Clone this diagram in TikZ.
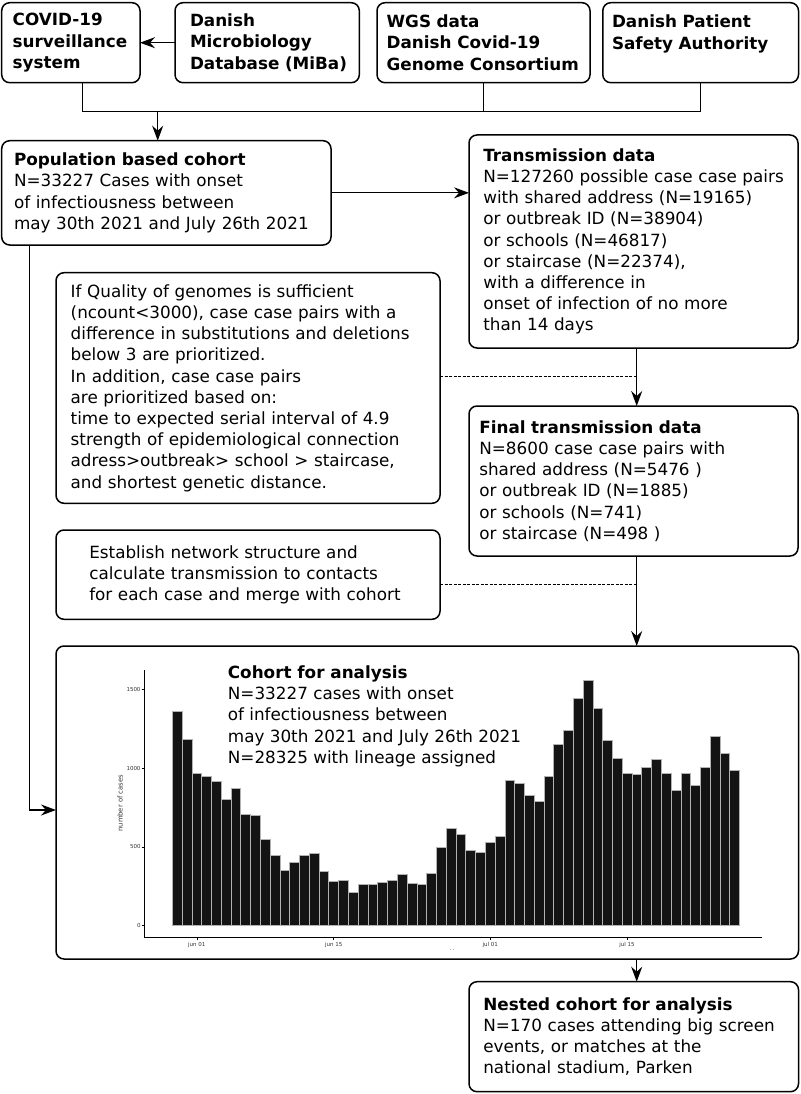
\documentclass[tikz,border=0pt]{standalone}
\usepackage{fontspec}
\setmainfont{DejaVu Sans}
\usetikzlibrary{arrows.meta}

\begin{document}
\begin{tikzpicture}[x=1pt, y=-1pt,
  box/.style={draw, line width=1.5pt, rounded corners=8pt, anchor=north west, outer sep=0pt, align=left, font=\fontsize{16.8}{21.2}\selectfont},
  link/.style={line width=1.3pt},
  arr/.style={line width=1.3pt, -{Stealth[length=15pt, width=11pt, inset=5pt]}},
  dash line/.style={line width=0.9pt, dash pattern=on 3pt off 1.5pt},
  bar/.style={fill=black!92, draw=black!30, line width=0.6pt},
  tick label/.style={font=\fontsize{5.5}{6}\selectfont, inner sep=0.5pt, text=black!80}]

\useasboundingbox (0,0) rectangle (800,1094);

% sources
\node [box, inner xsep=11pt, text width=116.3pt, minimum width=138.3pt, minimum height=80pt] (covid) at (1.7,2.7) {\textbf{COVID-19}\\\textbf{surveillance}\\\textbf{system}};
\node [box, inner xsep=15pt, text width=154.3pt, minimum width=184.3pt, minimum height=80pt] (miba) at (175,2.7) {\textbf{Danish}\\\textbf{Microbiology}\\\textbf{Database~(MiBa)}};
\node [box, inner xsep=9.7pt, text width=193.6pt, minimum width=213pt, minimum height=80pt] (wgs) at (377,2.7) {\textbf{WGS data}\\\textbf{Danish Covid-19}\\\textbf{Genome~Consortium}};
\node [box, inner xsep=9.2pt, text width=177.3pt, minimum width=195.7pt, minimum height=80pt] (dpsa) at (602.8,2.7) {\textbf{Danish Patient}\\\textbf{Safety Authority}\\\mbox{}};

% cohorts and pairs
\node [box, inner xsep=12.3pt, text width=304.7pt, minimum width=329.3pt, minimum height=104.3pt] (pop) at (1.7,140.7) {\textbf{Population based cohort}\\N=33227 Cases with onset\\of infectiousness between\\may 30th 2021 and July 26th 2021};
\node [box, inner xsep=14.3pt, text width=300.4pt, minimum width=329pt, minimum height=213pt] (trans) at (469,135) {\textbf{Transmission data}\\\mbox{N=127260 possible case case pairs}\\with shared address (N=19165)\\or outbreak ID (N=38904)\\or schools (N=46817)\\or staircase (N=22374),\\with a difference in\\onset of infection of no more\\than 14 days};
\node [box, inner xsep=14.7pt, text width=354.6pt, minimum width=384pt, minimum height=230.6pt] (quality) at (56,272.7) {If Quality of genomes is sufficient\\(ncount<3000), case case pairs with a\\difference in substitutions and deletions\\below 3 are prioritized.\\In addition, case case pairs\\are prioritized based on:\\time to expected serial interval of 4.9\\strength of epidemiological connection\\adress>outbreak> school > staircase,\\and shortest genetic distance.};
\node [box, inner xsep=10.3pt, text width=308.4pt, minimum width=329pt, minimum height=150pt] (final) at (469,406) {\textbf{Final transmission data}\\N=8600 case case pairs with\\shared address (N=5476 )\\or outbreak ID (N=1885)\\or schools (N=741)\\or staircase (N=498 )};
\node [box, inner xsep=33.3pt, text width=317.4pt, minimum width=384pt, minimum height=89.3pt] (establish) at (56,530) {Establish network structure and\\calculate transmission to contacts\\for each case and merge with cohort};
\node [box, inner sep=0pt, minimum width=742.5pt, minimum height=313pt] (cohort) at (56,646) {};
\node [box, inner xsep=14.3pt, text width=300.9pt, minimum width=329.5pt, minimum height=110pt] (nested) at (469,981.7) {\textbf{Nested cohort for analysis}\\N=170 cases attending big screen\\events, or matches at the\\national stadium, Parken};

\coordinate (bus) at (82.7,111.7);
\coordinate (drop) at (157.7,111.7);
\coordinate (spine) at (636.7,0);
\coordinate (feed) at (29.3,810);

\draw [arr] (miba.west) -- (covid.east);
\draw [link] (covid.south -| bus) -- (bus) -| (dpsa.south);
\draw [link] (wgs.south) -- (wgs.south |- bus);
\draw [arr] (drop) -- (drop |- pop.north);
\draw [arr] (pop.east) -- (pop.east -| trans.west);
\draw [arr] (trans.south -| spine) -- (final.north -| spine);
\draw [dash line] ([yshift=11.3pt]quality.east) -- ([yshift=11.3pt]quality.east -| spine);
\draw [dash line] ([yshift=-9.3pt]establish.east) -- ([yshift=-9.3pt]establish.east -| spine);
\draw [arr] (final.south -| spine) -- (cohort.north -| spine);
\draw [arr] (cohort.south -| spine) -- (nested.north -| spine);
\draw [arr] (pop.south -| feed) |- (cohort.west |- feed);

% daily cases chart
\foreach \v [count=\i] in {1362,1180,964,945,917,805,869,705,699,551,445,350,403,449,460,343,284,290,214,263,263,275,288,326,269,265,330,498,621,583,481,466,532,568,924,905,828,792,949,1153,1237,1441,1555,1381,1178,1061,968,962,1006,1055,964,862,968,892,1004,1203,1093,983} {\draw [bar] (162.52+9.78*\i,925.7) rectangle ++(9.78,-0.1576*\v);}

\draw [line width=0.8pt] (144.3,670) -- (144.3,937.7) -- (761.7,937.7);

\foreach \t in {0,500,1000,1500} {
  \draw [line width=0.5pt] (141.7,925.7-0.1576*\t) -- (144.3,925.7-0.1576*\t);
  \node [tick label, anchor=east] (ytick\t) at (141.2,925.7-0.1576*\t) {\t};
}
\foreach \d/\l in {3/jun 01,17/jun 15,33/jul 01,47/jul 15} {
  \draw [line width=0.5pt] (167.41+9.78*\d,937.7) -- ++(0,2.7);
  \node [tick label, anchor=north] (xtick\d) at (167.41+9.78*\d,941.5) {\l};
}
\node [rotate=90, font=\fontsize{6.8}{8}\selectfont, text=black!80] (ylab) at (120,803.3) {number of cases};
\node [tick label] (xlab) at (452,950) {.\,.};

\node [anchor=west, inner sep=0pt, align=left, font=\fontsize{16.8}{21.2}\selectfont] (cohorttext) at (227.7,716.2) {\textbf{Cohort for analysis}\\N=33227 cases with onset\\of infectiousness between\\may 30th 2021 and July 26th 2021\\N=28325 with lineage assigned};

\end{tikzpicture}
\end{document}
